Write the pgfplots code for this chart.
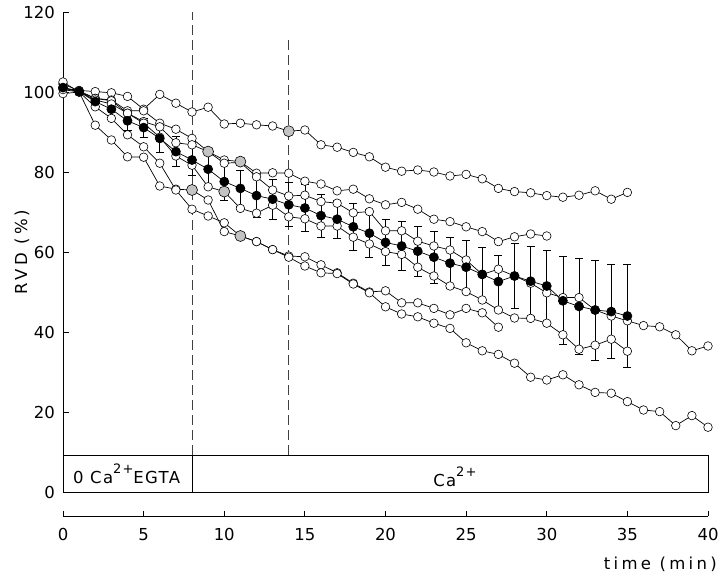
\documentclass[border=0pt]{standalone}
\usepackage{pgfplots}
\pgfplotsset{compat=1.18}
\usepackage{fontspec}
\setmainfont{DejaVu Sans}
\newfontfamily\lbfont[LetterSpace=20]{DejaVu Sans}
\newfontfamily\boxfont[LetterSpace=8]{DejaVu Sans}
\newcommand\ticksfont{\fontsize{16.5bp}{19bp}\selectfont}
\definecolor{grayfill}{RGB}{195,195,195}
\pgfplotsset{
  indiv/.style={black, line width=0.7pt, mark=*, mark size=4.3bp, mark options={fill=white, draw=black, line width=0.6pt, solid}},
}
\begin{document}
\begin{tikzpicture}
\path[use as bounding box] (-63bp,-84bp) rectangle (657bp,492bp);
\begin{axis}[
  at={(0,0)}, anchor=south west,
  scale only axis, width=645bp, height=480bp,
  xmin=0, xmax=40, ymin=0, ymax=120,
  axis x line=none, axis y line=left, axis line style={-, line width=0.8pt},
  ytick={0,20,...,120}, tick align=inside, major tick length=5.5bp,
  tick style={line width=0.8pt, black},
  yticklabel style={font=\ticksfont, anchor=east, inner sep=0pt, xshift=-8bp},
  /pgf/number format/assume math mode=true,
  clip=false,
]
% stimulus box and dashed markers
\draw[line width=0.8pt] (axis cs:0,0) rectangle (axis cs:40,9.25);
\draw[line width=0.8pt] (axis cs:8,0) -- (axis cs:8,9.25);
\draw[line width=0.8pt, dash pattern=on 10bp off 5bp, black!75] (axis cs:8,9.25) -- (axis cs:8,120);
\draw[line width=0.8pt, dash pattern=on 10bp off 5bp, black!75] (axis cs:14,9.25) -- (axis cs:14,113.5);
\node[anchor=base west, inner sep=0pt, font=\boxfont\fontsize{16.5bp}{19bp}\selectfont] at (axis cs:0.62,2.2) {0 Ca\raisebox{10bp}{\fontsize{13bp}{13bp}\selectfont 2+}EGTA};
\node[anchor=base, inner sep=0pt, font=\boxfont\fontsize{16.5bp}{19bp}\selectfont] at (axis cs:24.3,1.5) {Ca\raisebox{10bp}{\fontsize{13bp}{13bp}\selectfont 2+}};

% S1
\addplot[indiv] table {
x y
0 101.0
1 100.4
2 100.1
3 99.8
4 98.9
5 95.7
6 99.4
7 97.2
8 95.0
9 96.2
10 92.0
11 92.2
12 91.8
13 91.5
14 90.2
15 90.5
16 86.8
17 86.2
18 84.9
19 83.8
20 81.2
21 80.2
22 80.5
23 80.0
24 79.0
25 79.4
26 78.3
27 75.9
28 75.1
29 74.8
30 74.1
31 73.7
32 74.2
33 75.3
34 73.2
35 74.9
};
% S2
\addplot[indiv] table {
x y
0 102.0
1 100.3
2 98.4
3 98.0
4 95.3
5 95.3
6 92.2
7 90.7
8 88.4
9 85.1
10 83.0
11 82.6
12 79.7
13 79.8
14 79.7
15 77.7
16 77.0
17 75.3
18 75.7
19 73.3
20 71.8
21 72.4
22 70.7
23 68.2
24 67.6
25 66.3
26 65.1
27 62.6
28 63.8
29 64.5
30 64.0
};
% S3
\addplot[indiv] table {
x y
0 101.0
1 100.0
2 98.4
3 97.8
4 94.7
5 92.6
6 91.3
7 87.3
8 86.8
9 85.1
10 82.2
11 82.4
12 78.8
13 75.5
14 74.0
15 74.2
16 72.6
17 72.2
18 69.8
19 70.1
20 65.3
21 65.3
22 62.7
23 61.5
24 60.5
25 58.0
26 54.4
27 55.7
28 54.0
29 52.2
30 49.8
31 48.6
32 48.6
33 45.5
34 44.0
35 42.8
36 41.6
37 41.3
38 39.3
39 35.3
40 36.5
};
% S4
\addplot[indiv] table {
x y
0 102.5
1 100.0
2 98.0
3 97.0
4 94.7
5 92.2
6 88.7
7 84.0
8 81.7
9 76.3
10 75.1
11 70.9
12 69.7
13 71.7
14 68.8
15 68.3
16 66.5
17 66.5
18 63.7
19 62.0
20 60.1
21 59.4
22 56.2
23 54.0
24 51.5
25 50.1
26 48.0
27 45.5
28 43.5
29 43.4
30 42.2
31 39.3
32 35.7
33 36.7
34 38.2
35 35.2
};
% S5
\addplot[indiv] table {
x y
0 99.6
1 100.0
2 91.7
3 88.0
4 83.8
5 83.7
6 76.5
7 75.7
8 75.5
9 73.0
10 65.1
11 64.0
12 62.6
13 60.6
14 59.0
15 58.8
16 56.8
17 54.8
18 52.2
19 50.0
20 50.3
21 47.3
22 47.3
23 45.9
24 44.3
25 45.9
26 44.8
27 41.2
};
% S6
\addplot[indiv] table {
x y
0 100.6
1 100.0
2 96.3
3 93.4
4 89.3
5 86.3
6 82.2
7 75.5
8 70.7
9 69.0
10 67.3
11 64.0
12 62.6
13 60.6
14 58.7
15 56.5
16 54.8
17 54.6
18 52.0
19 49.8
20 46.3
21 44.5
22 43.8
23 42.2
24 40.9
25 37.3
26 35.3
27 34.4
28 32.2
29 28.7
30 28.0
31 29.3
32 26.8
33 24.9
34 24.7
35 22.6
36 20.5
37 20.1
38 16.6
39 19.1
40 16.2
};
% highlighted (gray) points
\addplot[only marks, mark=*, mark size=5.5bp, mark options={fill=grayfill, draw=black, line width=0.6pt}] table {
x y
14 90.2
9 85.1
11 82.6
10 75.1
8 75.5
11 64.0
};
% mean +- error
\addplot[black, line width=0.7pt, mark=*, mark size=4.5bp, mark options={fill=black, draw=black, solid},
  error bars/.cd, y dir=both, y explicit, error mark=-,
  error bar style={line width=0.7pt, black},
  error mark options={rotate=90, line width=0.7pt, mark size=4bp, black}]
  table[x=x, y=y, y error=e] {
x y e
0 101.1 0.8
1 100.1 0.3
2 97.6 1.2
3 95.7 1.6
4 92.8 2.3
5 91.1 2.4
6 88.4 3.6
7 85.1 3.8
8 83.0 3.8
9 80.7 4.0
10 77.6 4.6
11 75.9 4.6
12 74.1 5.5
13 73.2 5.0
14 71.8 5.5
15 71.0 5.8
16 69.1 5.4
17 68.2 4.8
18 66.3 5.8
19 64.7 6.0
20 62.4 5.8
21 61.5 6.2
22 60.2 6.2
23 58.7 6.5
24 57.2 6.4
25 56.2 6.6
26 54.4 6.8
27 52.6 6.6
28 54.0 8.2
29 52.7 8.8
30 51.5 9.0
31 47.8 11.0
32 46.4 12.0
33 45.5 12.5
34 45.1 11.8
35 44.0 12.8
};
\end{axis}
\begin{axis}[
  at={(0,-24bp)}, anchor=south west,
  scale only axis, width=645bp, height=20bp,
  xmin=0, xmax=40, ymin=0, ymax=1,
  axis x line=bottom, axis y line=none, axis line style={-, line width=0.8pt},
  xtick={0,5,...,40}, tick align=inside, major tick length=5bp,
  tick style={line width=0.8pt, black},
  xticklabel style={font=\ticksfont, anchor=north, inner sep=0pt, yshift=-12bp},
  /pgf/number format/assume math mode=true,
]
\end{axis}
\node[anchor=base east, inner sep=0pt, font=\lbfont\fontsize{16.5bp}{19bp}\selectfont] at (654bp,-77bp) {time (min)};
\node[rotate=90, inner sep=0pt, font=\lbfont\fontsize{16.5bp}{19bp}\selectfont] at (-41bp,240bp) {RVD (\%)};
\end{tikzpicture}
\end{document}
